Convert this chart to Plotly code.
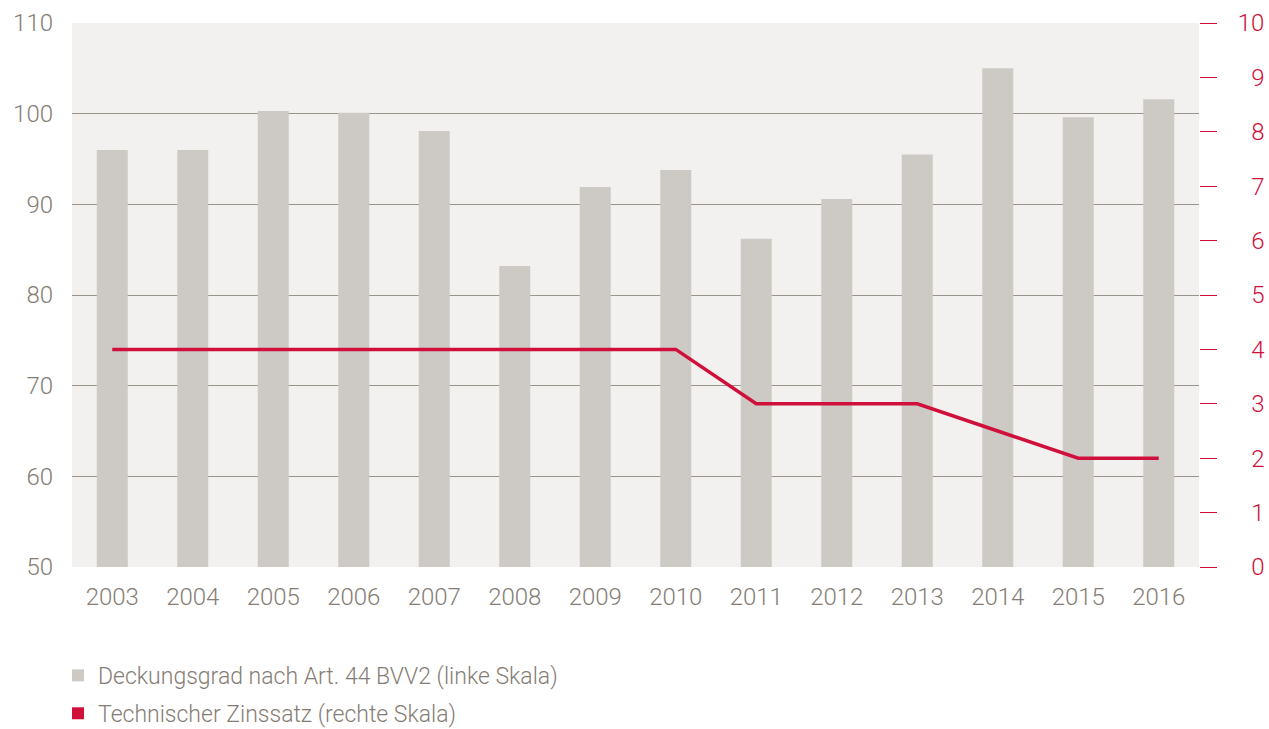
import plotly.graph_objects as go

years = ["2003", "2004", "2005", "2006", "2007", "2008", "2009", "2010",
         "2011", "2012", "2013", "2014", "2015", "2016"]
deckungsgrad = [96.0, 96.0, 100.3, 100.1, 98.1, 83.2, 91.9, 93.8,
                86.2, 90.6, 95.5, 105.0, 99.6, 101.6]
zinssatz = [4, 4, 4, 4, 4, 4, 4, 4, 3, 3, 3, 2.5, 2, 2]

left_ticks = [50, 60, 70, 80, 90, 100, 110]
right_ticks = [0, 1, 2, 3, 4, 5, 6, 7, 8, 9, 10]
right_ticktext = [("\u2007" + str(v)) if v < 10 else str(v) for v in right_ticks]

name_bar = "Deckungsgrad nach Art. 44 BVV2 (linke Skala)"
name_line = "Technischer Zinssatz (rechte Skala)"

GRAY_TXT = "#857d75"
RED = "#d0103a"
BAR = "#cdcac5"
BG = "#f2f1ef"
GRID = "#9a938b"
FONT = "Roboto"

fig = go.Figure()
fig.add_trace(go.Bar(x=years, y=deckungsgrad, name=name_bar,
                     marker=dict(color=BAR, line=dict(width=0)),
                     yaxis="y", showlegend=True, legendgroup="a"))
fig.add_trace(go.Scatter(x=years, y=zinssatz, name=name_line, mode="lines",
                         line=dict(color=RED, width=3.5), yaxis="y2",
                         showlegend=False, legendgroup="b"))
fig.add_trace(go.Scatter(x=[None], y=[None], name=name_line, mode="markers",
                         marker=dict(symbol="square", size=12, color=RED),
                         yaxis="y2", showlegend=True, legendgroup="b"))

fig.update_layout(
    width=1269, height=729,
    margin=dict(l=72, r=70, t=23, b=162),
    paper_bgcolor="white",
    plot_bgcolor=BG,
    bargap=0.615,
    font=dict(family=FONT, size=24, color=GRAY_TXT, weight=300),
    xaxis=dict(type="category", showgrid=False, showline=False, ticks="",
               automargin=False,
               tickfont=dict(size=24, color=GRAY_TXT), ticklabelstandoff=13),
    yaxis=dict(range=[50, 110], tickvals=left_ticks, showgrid=True,
               gridcolor=GRID, gridwidth=1, zeroline=False, showline=False,
               automargin=False,
               ticks="", tickfont=dict(size=24, color=GRAY_TXT),
               ticklabelstandoff=18),
    yaxis2=dict(range=[0, 10], tickvals=right_ticks, ticktext=right_ticktext,
                overlaying="y", side="right", showgrid=False, zeroline=False,
                showline=False, ticks="outside", ticklen=17, tickwidth=1,
                automargin=False,
                tickcolor=RED, tickfont=dict(size=24, color=RED),
                ticklabelstandoff=16),
    legend=dict(x=-0.0124, xanchor="left", yref="container", y=0.103,
                yanchor="top",
                orientation="v", font=dict(size=23, color=GRAY_TXT),
                bgcolor="rgba(0,0,0,0)", tracegroupgap=5),
)

fig.write_html("out.html",
               config={"displayModeBar": False},
               post_script="document.body.style.margin='0';"
                           "document.body.style.overflow='hidden';")
